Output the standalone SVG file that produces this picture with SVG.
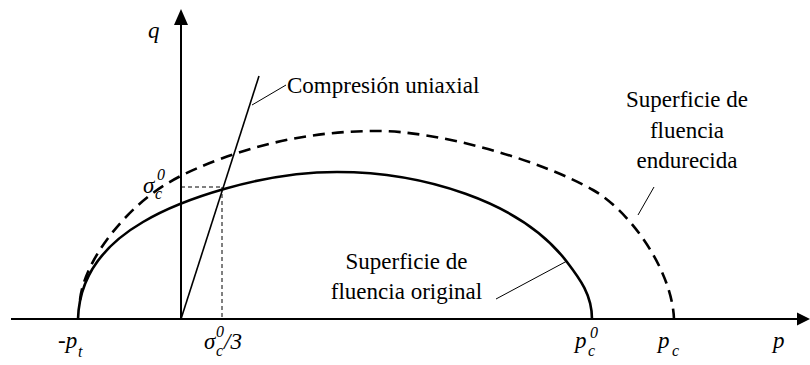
<svg xmlns="http://www.w3.org/2000/svg" width="810" height="365" viewBox="0 0 810 365">
<style>
.ax{stroke:#000;stroke-width:2;fill:none}
.cur{stroke:#000;stroke-width:2.6;fill:none;stroke-linecap:butt}
.dash{stroke-dasharray:12 7}
.thin{stroke:#000;stroke-width:1;fill:none}
.dot{stroke:#000;stroke-width:1;stroke-dasharray:4 3;fill:none}
.t{font-family:'Liberation Serif','Times New Roman',Tinos,'DejaVu Serif',serif;font-size:23px;fill:#000}
.m{font-style:italic}
.s{font-size:16px;font-style:italic}
</style>
<rect width="810" height="365" fill="#fff"/>
<g id="axes">
<line class="ax" x1="11" y1="319" x2="799" y2="319"/>
<polygon points="810,319 797,312.5 797,325.5" fill="#000"/>
<line class="ax" x1="181" y1="319" x2="181" y2="24"/>
<polygon points="181,9 174,25 188,25" fill="#000"/>
<text class="t m" x="148" y="38">q</text>
<text class="t m" x="773" y="348">p</text>
</g>
<g id="compression-line">
<line stroke="#000" stroke-width="1.6" x1="181" y1="319" x2="259" y2="76"/>
</g>
<g id="original-surface">
<path class="cur" d="M78,319 C79,285 95,250 143,222 C180,200 260,172 337,172 C420,172 520,200 567,262 C580,279 592,295 592,319"/>
</g>
<g id="hardened-surface">
<path class="cur dash" d="M80,300 C82,280 95,250 125,218 C155,186 185,172 223,158 C270,141 320,131 377,131 C440,131 540,160 593,190 C630,211 672,270 674,319"/>
</g>
<g id="sigma-guides">
<line class="dot" x1="181" y1="187" x2="222" y2="187"/>
<line class="dot" x1="222" y1="187" x2="222" y2="319"/>
</g>
<g id="connectors">
<line class="thin" x1="252" y1="105" x2="286" y2="85"/>
<line class="thin" x1="654" y1="187" x2="638" y2="215"/>
<line class="thin" x1="496" y1="299" x2="567" y2="261"/>
</g>
<g id="label-compresion">
<text class="t" x="287" y="93">Compresión uniaxial</text>
</g>
<g id="label-endurecida">
<text class="t" x="687" y="107" text-anchor="middle">Superficie de</text>
<text class="t" x="687" y="137.5" text-anchor="middle">fluencia</text>
<text class="t" x="687" y="168" text-anchor="middle">endurecida</text>
</g>
<g id="label-original">
<text class="t" x="406.5" y="269" text-anchor="middle">Superficie de</text>
<text class="t" x="406.5" y="299" text-anchor="middle">fluencia original</text>
</g>
<g id="label-sigma-q">
<text class="t m" x="143" y="193">σ</text>
<text class="t s" x="155" y="199">c</text>
<text class="t s" x="157" y="180">0</text>
</g>
<g id="label-pt">
<text class="t m" x="58" y="348">-p</text>
<text class="t s" x="78" y="357">t</text>
</g>
<g id="label-sigma-p">
<text class="t m" x="204" y="349">σ</text>
<text class="t s" x="216" y="356">c</text>
<text class="t s" x="216" y="337">0</text>
<text class="t m" x="224" y="349">/3</text>
</g>
<g id="label-pc0">
<text class="t m" x="575" y="348">p</text>
<text class="t s" x="588" y="356">c</text>
<text class="t s" x="590" y="338">0</text>
</g>
<g id="label-pc">
<text class="t m" x="658" y="348">p</text>
<text class="t s" x="672" y="356">c</text>
</g>
</svg>
